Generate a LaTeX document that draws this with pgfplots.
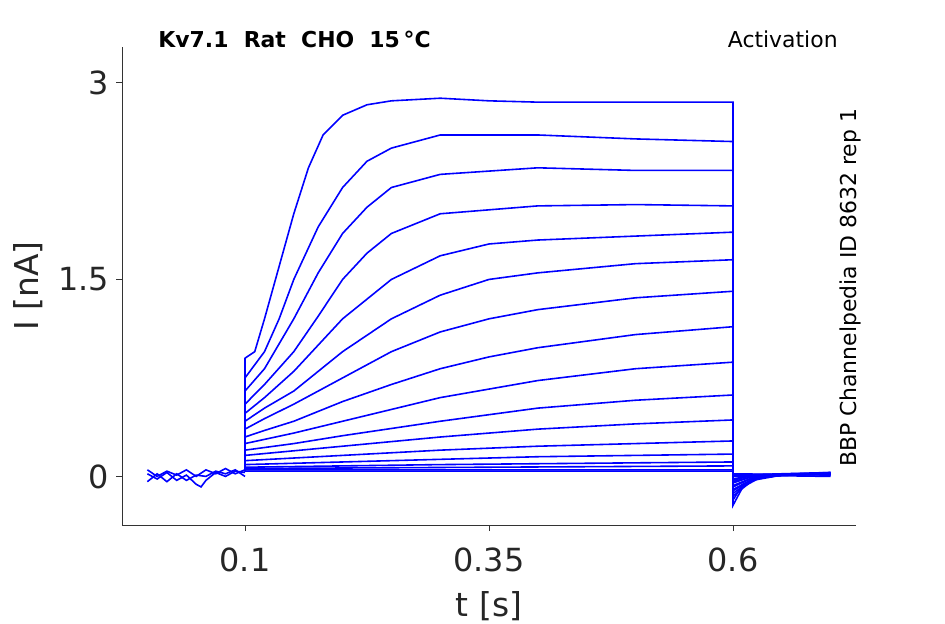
\documentclass[border=0pt]{standalone}
\usepackage{pgfplots}
\pgfplotsset{compat=1.18}
\usepackage{fontspec}
\setmainfont{DejaVu Sans}
\tikzset{tr/.style={blue,mark=none,solid,line width=0.8pt}}
\begin{document}
\begin{tikzpicture}
\path[use as bounding box] (0,0) rectangle (472.5bp,312bp);
\begin{axis}[at={(61bp,49.5bp)},anchor=south west,scale only axis,
width=367bp,height=239bp,
xmin=-0.026,xmax=0.726,ymin=-0.37,ymax=3.27,
axis lines=left,axis line style={-,black!80},
xtick={0.1,0.35,0.6},xticklabels={0.1,0.35,0.6},
ytick={0,1.5,3},yticklabels={0,1.5,3},
tick style={black!80},tick align=outside,major tick length=3bp,
ticklabel style={font=\fontsize{16}{18}\selectfont,text=black!85},
xticklabel style={yshift=-5bp},
/pgf/number format/assume math mode=true,
xlabel={t [s]},ylabel={I [nA]},
label style={font=\fontsize{16.5}{18}\selectfont,text=black!85},
xlabel style={yshift=-3bp},ylabel style={yshift=1bp},
clip=false]
% baseline segment
\addplot[tr] coordinates {(0,0.02)(0.01,-0.02)(0.02,0.03)(0.03,-0.03)(0.04,0.01)(0.05,-0.06)(0.055,-0.08)(0.06,-0.03)(0.07,0.03)(0.08,0.0)(0.09,0.04)(0.1,0.03)};
\addplot[tr] coordinates {(0,0.05)(0.01,0.0)(0.02,0.04)(0.03,0.01)(0.04,0.05)(0.05,0.0)(0.06,0.05)(0.07,0.02)(0.08,0.06)(0.09,0.02)(0.1,0.05)};
\addplot[tr] coordinates {(0,-0.04)(0.01,0.02)(0.02,-0.04)(0.03,0.02)(0.04,-0.03)(0.05,0.01)(0.06,0.0)(0.07,0.04)(0.08,0.02)(0.09,0.05)(0.1,0.0)};
% traces
\addplot[tr] coordinates {(0.1,0.04)(0.1,0.9)(0.11,0.95)(0.12,1.2)(0.135,1.6)(0.15,2.0)(0.165,2.35)(0.18,2.6)(0.2,2.75)(0.225,2.83)(0.25,2.86)(0.3,2.88)(0.35,2.86)(0.4,2.85)(0.5,2.85)(0.6,2.85)(0.6,-0.22)(0.61,-0.08)(0.63,0.0)(0.66,0.02)(0.7,0.02)};
\addplot[tr] coordinates {(0.1,0.04)(0.1,0.75)(0.12,0.95)(0.135,1.2)(0.15,1.5)(0.175,1.9)(0.2,2.2)(0.225,2.4)(0.25,2.5)(0.3,2.6)(0.35,2.6)(0.4,2.6)(0.5,2.57)(0.6,2.55)(0.6,-0.18)(0.61,-0.06)(0.63,0.0)(0.66,0.02)(0.7,0.01)};
\addplot[tr] coordinates {(0.1,0.04)(0.1,0.65)(0.12,0.82)(0.15,1.2)(0.175,1.55)(0.2,1.85)(0.225,2.05)(0.25,2.2)(0.3,2.3)(0.4,2.35)(0.5,2.33)(0.6,2.33)(0.6,-0.15)(0.62,-0.03)(0.65,0.01)(0.7,0.02)};
\addplot[tr] coordinates {(0.1,0.04)(0.1,0.55)(0.12,0.7)(0.15,0.95)(0.175,1.22)(0.2,1.5)(0.225,1.7)(0.25,1.85)(0.3,2.0)(0.4,2.06)(0.5,2.07)(0.6,2.06)(0.6,-0.13)(0.62,-0.02)(0.65,0.01)(0.7,0.02)};
\addplot[tr] coordinates {(0.1,0.04)(0.1,0.48)(0.12,0.6)(0.15,0.8)(0.2,1.2)(0.25,1.5)(0.3,1.68)(0.35,1.77)(0.4,1.8)(0.5,1.83)(0.6,1.86)(0.6,-0.11)(0.62,-0.02)(0.65,0.01)(0.7,0.02)};
\addplot[tr] coordinates {(0.1,0.04)(0.1,0.42)(0.12,0.52)(0.15,0.65)(0.2,0.95)(0.25,1.2)(0.3,1.38)(0.35,1.5)(0.4,1.55)(0.5,1.62)(0.6,1.65)(0.6,-0.1)(0.62,-0.02)(0.65,0.01)(0.7,0.02)};
\addplot[tr] coordinates {(0.1,0.04)(0.1,0.36)(0.12,0.44)(0.15,0.55)(0.2,0.75)(0.25,0.95)(0.3,1.1)(0.35,1.2)(0.4,1.27)(0.5,1.36)(0.6,1.41)(0.6,-0.08)(0.62,-0.01)(0.65,0.01)(0.7,0.02)};
\addplot[tr] coordinates {(0.1,0.04)(0.1,0.3)(0.12,0.35)(0.15,0.42)(0.2,0.57)(0.25,0.7)(0.3,0.82)(0.35,0.91)(0.4,0.98)(0.5,1.08)(0.6,1.14)(0.6,-0.07)(0.62,-0.01)(0.65,0.01)(0.7,0.02)};
\addplot[tr] coordinates {(0.1,0.04)(0.1,0.25)(0.15,0.33)(0.2,0.42)(0.25,0.51)(0.3,0.6)(0.4,0.73)(0.5,0.82)(0.6,0.87)(0.6,-0.05)(0.62,0.0)(0.7,0.02)};
\addplot[tr] coordinates {(0.1,0.04)(0.1,0.2)(0.15,0.25)(0.2,0.31)(0.3,0.42)(0.4,0.52)(0.5,0.58)(0.6,0.62)(0.6,-0.04)(0.62,0.0)(0.7,0.02)};
\addplot[tr] coordinates {(0.1,0.04)(0.1,0.16)(0.2,0.23)(0.3,0.3)(0.4,0.36)(0.5,0.4)(0.6,0.43)(0.6,-0.03)(0.62,0.01)(0.7,0.02)};
\addplot[tr] coordinates {(0.1,0.04)(0.1,0.12)(0.2,0.16)(0.3,0.2)(0.4,0.23)(0.5,0.25)(0.6,0.27)(0.6,-0.02)(0.62,0.01)(0.7,0.02)};
\addplot[tr] coordinates {(0.1,0.04)(0.1,0.09)(0.2,0.11)(0.4,0.15)(0.6,0.17)(0.6,0.0)(0.7,0.02)};
\addplot[tr] coordinates {(0.1,0.04)(0.1,0.07)(0.3,0.09)(0.6,0.11)(0.6,0.01)(0.7,0.03)};
\addplot[tr] coordinates {(0.1,0.04)(0.1,0.06)(0.6,0.08)(0.6,0.01)(0.7,0.0)};
\addplot[tr] coordinates {(0.1,0.04)(0.1,0.05)(0.6,0.05)(0.6,0.02)(0.7,0.01)};
\addplot[tr] coordinates {(0.1,0.04)(0.1,0.04)(0.6,0.04)(0.6,0.0)(0.7,0.03)};
\end{axis}
\node[inner sep=0pt,anchor=base west,font=\fontsize{11}{12}\selectfont\bfseries] at (79bp,288bp) {Kv7.1\ \ Rat\ \ CHO\ \ 15\,°C};
\node[inner sep=0pt,anchor=base east,font=\fontsize{11}{12}\selectfont] at (419bp,288bp) {Activation};
\node[inner sep=0pt,rotate=90,font=\fontsize{11}{12}\selectfont] at (425bp,168bp) {BBP Channelpedia ID 8632 rep 1};
\end{tikzpicture}
\end{document}
